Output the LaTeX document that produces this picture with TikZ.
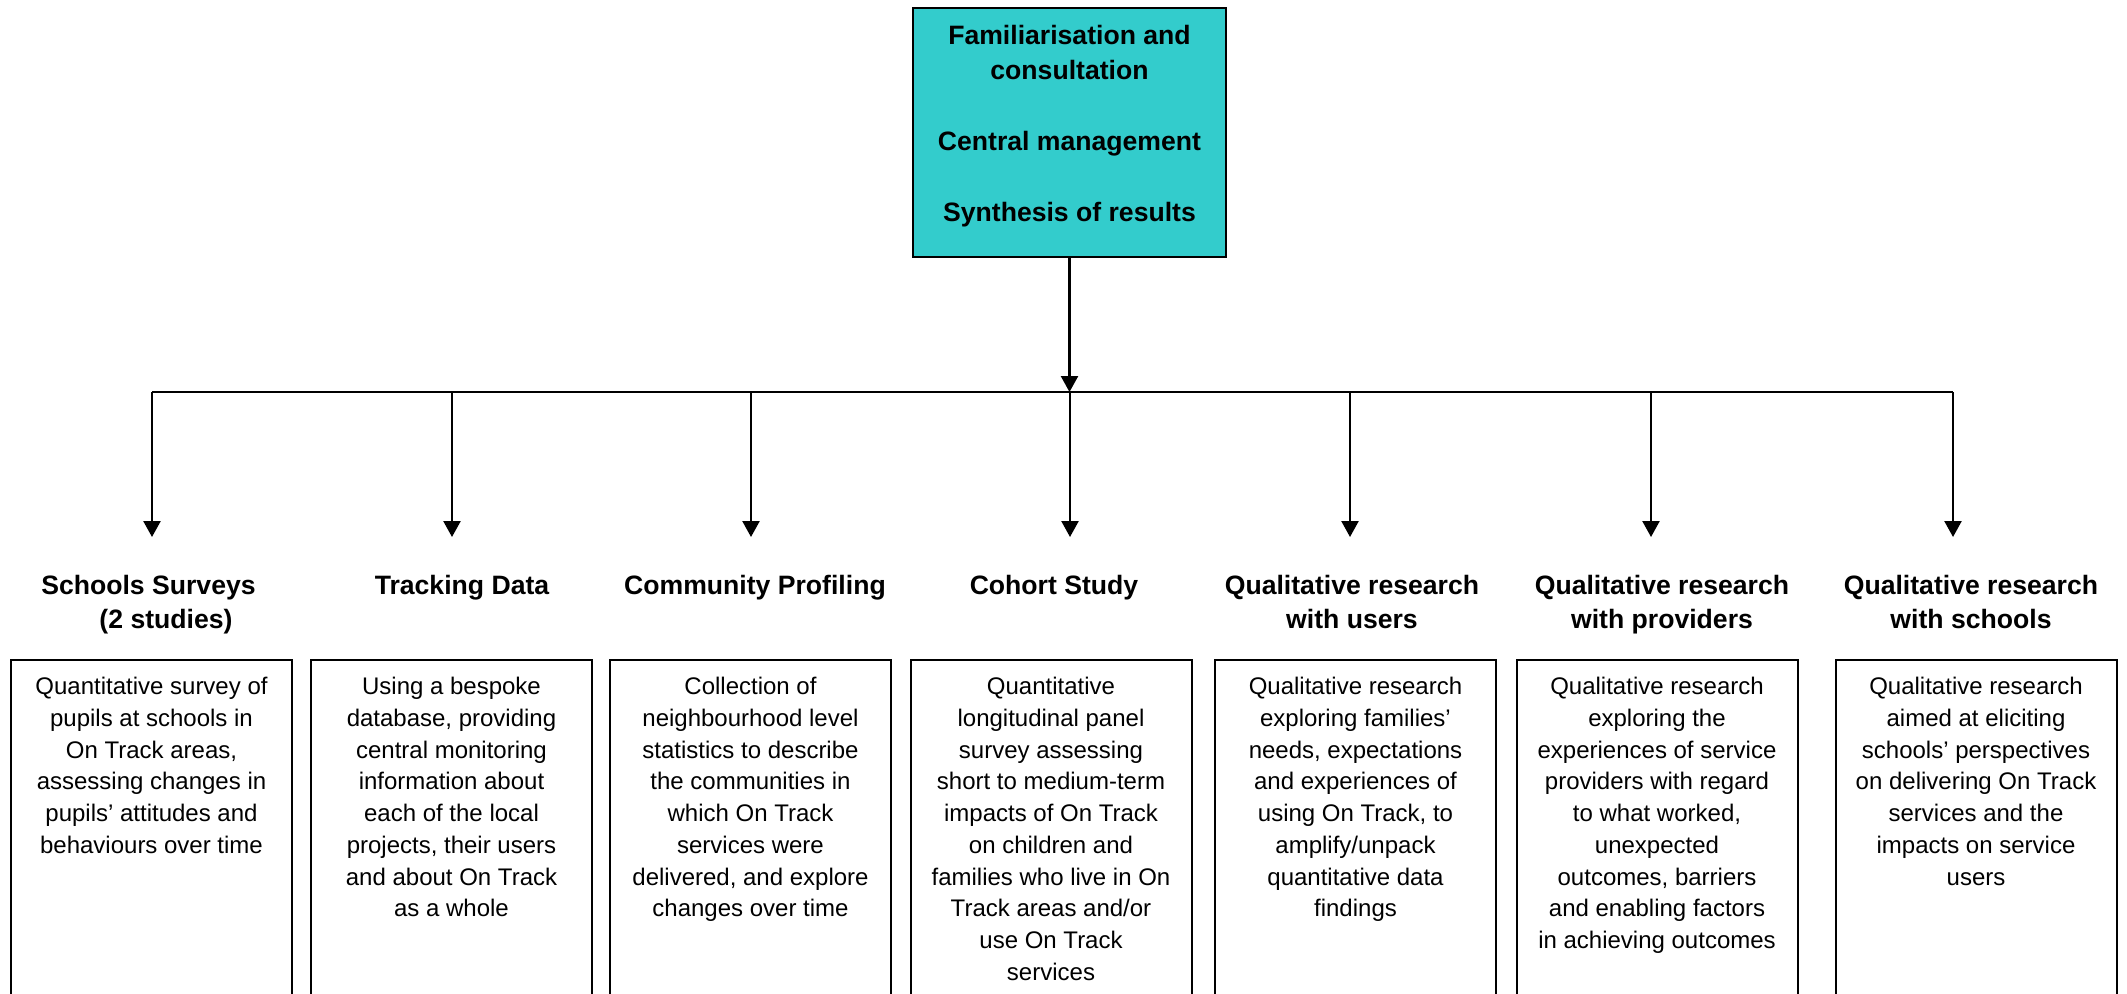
\documentclass[tikz,border=0pt]{standalone}
\usepackage{fontspec}
\setmainfont{Liberation Sans}
\usetikzlibrary{arrows.meta}
\definecolor{teal1}{RGB}{51,204,204}
\tikzset{
 box/.style={draw, line width=1pt, minimum width=140.5pt, minimum height=180pt, anchor=north, inner sep=0pt},
 body/.style={align=center, font=\fontsize{12}{15.85}\selectfont, anchor=north, inner sep=0pt},
 head/.style={align=center, font=\fontsize{13.3}{17}\selectfont\bfseries, anchor=north, inner sep=0pt},
 topbox/.style={draw, line width=1pt, fill=teal1, minimum width=156.5pt, minimum height=124.5pt, inner sep=0pt},
 toptext/.style={align=center, font=\fontsize{13.3}{17.75}\selectfont\bfseries, inner sep=0pt},
 arr/.style={line width=1.2pt, -{Triangle[length=8pt,width=8.5pt]}},
 bus/.style={line width=1pt},
}
\begin{document}
\begin{tikzpicture}[x=0.5pt,y=-0.5pt]
\useasboundingbox (0,0) rectangle (2127,993);
\fill[white] (0,0) rectangle (2127,993);
\clip (0,0) rectangle (2127,993);

% top box
\node[topbox] (top) at (1069.5,132.5) {};
\node[toptext] (toptxt) at (1069.5,126) {Familiarisation and\\consultation\\[17.75pt]Central management\\[17.75pt]Synthesis of results};

% bus
\coordinate (bL) at (152,392);
\coordinate (bR) at (1953,392);
\draw[bus] (bL) -- (bR);
\draw[arr] (top.south) -- (top.south |- bL);

% drop arrows
\foreach \i/\x in {1/152,2/452,3/751,4/1070,5/1350,6/1651,7/1953}{
  \coordinate (s\i) at (\x,392);
  \coordinate (e\i) at (\x,537);
  \draw[arr] (s\i) -- (e\i);
}

% headings
\node[head] (h1) at (148.5,575) {Schools Surveys\\\hspace*{17.5pt}(2 studies)};
\node[head] (h2) at (462,575) {Tracking Data};
\node[head] (h3) at (755,575) {Community Profiling};
\node[head] (h4) at (1054,575) {Cohort Study};
\node[head] (h5) at (1352,575) {Qualitative research\\with users};
\node[head] (h6) at (1662,575) {Qualitative research\\with providers};
\node[head] (h7) at (1971,575) {Qualitative research\\with schools};

% boxes
\node[box] (b1) at (151.5,659) {};
\node[box] (b2) at (451.5,659) {};
\node[box] (b3) at (750.5,659) {};
\node[box] (b4) at (1051,659) {};
\node[box] (b5) at (1355.5,659) {};
\node[box] (b6) at (1657,659) {};
\node[box] (b7) at (1976,659) {};

% body texts
\node[body] (t1) at (151.5,677) {Quantitative survey of\\pupils at schools in\\On Track areas,\\assessing changes in\\pupils’ attitudes and\\behaviours over time};
\node[body] (t2) at (451.5,677) {Using a bespoke\\database, providing\\central monitoring\\information about\\each of the local\\projects, their users\\and about On Track\\as a whole};
\node[body] (t3) at (750.5,677) {Collection of\\neighbourhood level\\statistics to describe\\the communities in\\which On Track\\services were\\delivered, and explore\\changes over time};
\node[body] (t4) at (1051,677) {Quantitative\\longitudinal panel\\survey assessing\\short to medium-term\\impacts of On Track\\on children and\\families who live in On\\Track areas and/or\\use On Track\\services};
\node[body] (t5) at (1355.5,677) {Qualitative research\\exploring families’\\needs, expectations\\and experiences of\\using On Track, to\\amplify/unpack\\quantitative data\\findings};
\node[body] (t6) at (1657,677) {Qualitative research\\exploring the\\experiences of service\\providers with regard\\to what worked,\\unexpected\\outcomes, barriers\\and enabling factors\\in achieving outcomes};
\node[body] (t7) at (1976,677) {Qualitative research\\aimed at eliciting\\schools’ perspectives\\on delivering On Track\\services and the\\impacts on service\\users};
\end{tikzpicture}
\end{document}
